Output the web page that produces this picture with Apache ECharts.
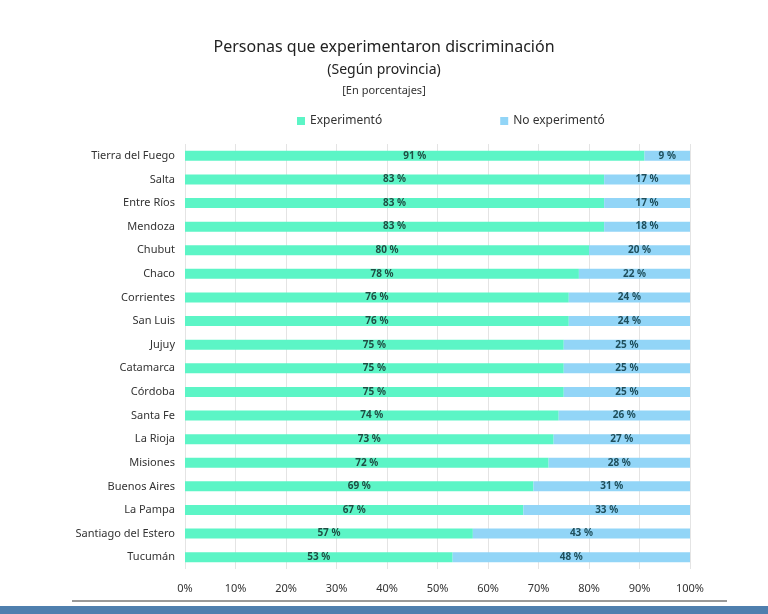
<!DOCTYPE html>
<html>
<head>
<meta charset="utf-8">
<script src="https://cdn.jsdelivr.net/npm/echarts@6/dist/echarts.min.js"></script>
<style>html,body{margin:0;padding:0;background:#fff}#chart{width:768px;height:614px}</style>
</head>
<body>
<div id="chart"></div>
<script>
// provincias de arriba hacia abajo
var provincias = ['Tierra del Fuego', 'Salta', 'Entre Ríos', 'Mendoza', 'Chubut', 'Chaco', 'Corrientes', 'San Luis', 'Jujuy', 'Catamarca', 'Córdoba', 'Santa Fe', 'La Rioja', 'Misiones', 'Buenos Aires', 'La Pampa', 'Santiago del Estero', 'Tucumán'];
var experimento = [91, 83, 83, 83, 80, 78, 76, 76, 75, 75, 75, 74, 73, 72, 69, 67, 57, 53];
var noExperimento = [9, 17, 17, 18, 20, 22, 24, 24, 25, 25, 25, 26, 27, 28, 31, 33, 43, 48];

var chart = echarts.init(document.getElementById('chart'));
var font = 'Noto Sans';

chart.setOption({
    textStyle: { fontFamily: font },
    title: [
        { text: 'Personas que experimentaron discriminación', left: 'center', top: 34, textStyle: { fontSize: 16, fontWeight: 'normal', color: '#222' } },
        { text: '(Según provincia)', left: 'center', top: 58, textStyle: { fontSize: 14, fontWeight: 'normal', color: '#222' } },
        { text: '[En porcentajes]', left: 'center', top: 80, textStyle: { fontSize: 11, fontWeight: 'normal', color: '#333' } }
    ],
    legend: {
        top: 110,
        left: 292,
        itemGap: 118,
        itemWidth: 8,
        itemHeight: 8,
        icon: 'rect',
        textStyle: { fontSize: 12, color: '#333' },
        data: ['Experimentó', 'No experimentó']
    },
    grid: { left: 185, right: 78, top: 144, bottom: 45 },
    xAxis: {
        type: 'value',
        min: 0, max: 100, interval: 10,
        axisLabel: { formatter: '{value}%', fontSize: 11, color: '#333', margin: 14 },
        splitLine: { lineStyle: { color: '#e4e4e4' } },
        axisLine: { show: false }
    },
    yAxis: {
        type: 'category',
        inverse: true,
        data: provincias,
        axisTick: { show: false },
        axisLine: { show: false },
        axisLabel: { fontSize: 11, color: '#333', margin: 10 }
    },
    series: [
        {
            name: 'Experimentó', type: 'bar', stack: 'a', barWidth: 10,
            data: experimento,
            itemStyle: { color: '#5cf5c6' },
            label: { show: true, position: 'inside', formatter: '{c} %', fontSize: 10, fontWeight: 'bold', color: '#1f4f44' }
        },
        {
            name: 'No experimentó', type: 'bar', stack: 'a', barWidth: 10,
            data: noExperimento,
            itemStyle: { color: '#92d5f7' },
            label: { show: true, position: 'inside', formatter: '{c} %', fontSize: 10, fontWeight: 'bold', color: '#1f4f5c' }
        }
    ],
    graphic: [
        { type: 'line', shape: { x1: 72, y1: 601, x2: 727, y2: 601 }, style: { stroke: '#777', lineWidth: 1.5 } },
        { type: 'rect', shape: { x: 0, y: 606, width: 768, height: 8 }, style: { fill: '#4f7fae' } }
    ]
});
</script>
</body>
</html>
